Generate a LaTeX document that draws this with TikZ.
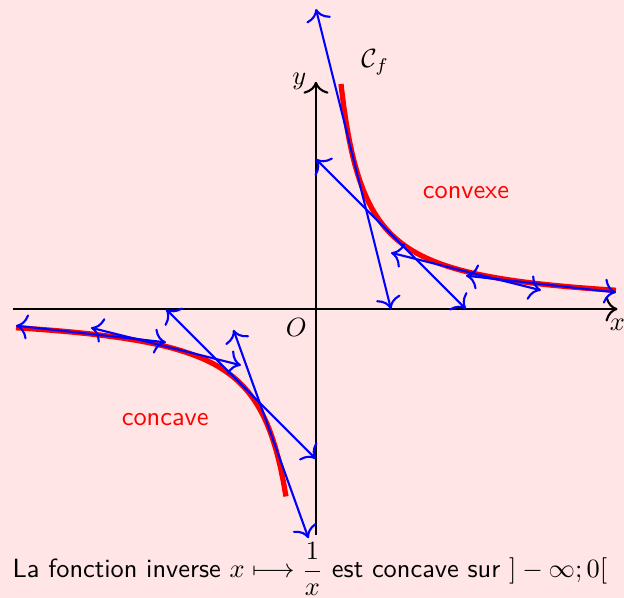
\documentclass[tikz,border=0pt]{standalone}
\usepackage{amsmath}
\usepackage{amssymb}
\usepackage{xcolor}
\usetikzlibrary{arrows.meta}

\begin{document}
\begin{tikzpicture}[>={To[scale=1.35]},
  tangente/.style={blue,thick,<->},
  courbe/.style={red,line width=2pt,samples=100}]
\useasboundingbox[fill=red!10] (-4.213,-3.853) rectangle (4.107,4.12);
% axes
\draw[thick,->] (-4.04,0) -- (4.02,0) node[below] (nx) {$x$};
\draw[thick,->] (0,-3.01) -- (0,3.03) node[left] (ny) {$y$};
\node[below left] (no) at (0,0) {$O$};
% hyperbole
\draw[courbe,domain=1/3:4] plot (\x,{1/\x});
\draw[courbe,domain=-4:-0.4] plot (\x,{1/\x});
\node (cf) at (0.79,3.29) {$\mathcal{C}_f$};
% tangentes
\draw[tangente] (0,4) -- (1,0);
\draw[tangente] (0,2) -- (2,0);
\draw[tangente] (1,0.75) -- (3,0.25);
\draw[tangente] (2,0.4444) -- (4,0.2222);
\draw[tangente] (-1.1,-0.2778) -- (-0.1,-3.0556);
\draw[tangente] (-2,0) -- (0,-2);
\draw[tangente] (-3,-0.25) -- (-1,-0.75);
\draw[tangente] (-4,-0.2222) -- (-2,-0.4444);
\node[red] (convexe) at (2,1.55) {\sffamily convexe};
\node[red] (concave) at (-2.01,-1.48) {\sffamily concave};
\node[anchor=west,inner sep=0pt] (legende) at (-4.053,-3.47)
  {\sffamily La fonction inverse $x\longmapsto\dfrac{1}{x}$ est concave sur $]-\infty;0[$};
\end{tikzpicture}
\end{document}
